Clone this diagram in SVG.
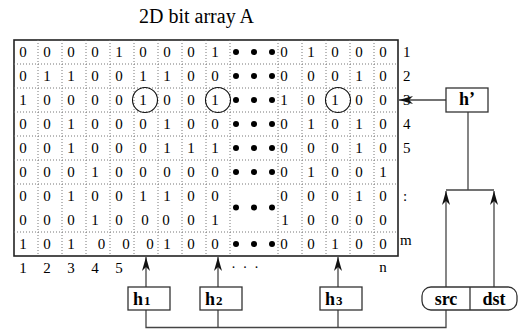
<svg xmlns="http://www.w3.org/2000/svg" width="518" height="329" viewBox="0 0 518 329">
<style>
text{font-family:"Liberation Serif","Times New Roman",serif;fill:#000}
.d{font-size:15px;text-anchor:middle}
.l{font-size:15px}
.b{font-weight:bold;font-size:18px}
.s{font-weight:bold;font-size:13px}
.dot{stroke:#777;stroke-width:1;stroke-dasharray:1 2;fill:none}
.box{fill:#fff;stroke:#333;stroke-width:1.3}
.cn{stroke:#444;stroke-width:1.3;fill:none}
.circ{fill:none;stroke:#111;stroke-width:1.1}
</style>
<defs>
<marker id="ah" viewBox="0 0 14 8" markerWidth="14" markerHeight="8" markerUnits="userSpaceOnUse" refX="14" refY="4" orient="auto">
<path d="M0,0 L14,4 L0,8 L4,4 z" fill="#111"/>
</marker>
</defs>
<text x="139" y="23" style="font-size:20px">2D bit array A</text>
<g id="array">
<rect x="14" y="40" width="384" height="216" fill="#fff" stroke="#222" stroke-width="1.6"/>
<path class="dot" d="M38,40V256M62,40V256M86,40V256M110,40V256M134,40V256M158,40V256M182,40V256M206,40V256M230,40V256M278,40V256M302,40V256M326,40V256M350,40V256M374,40V256M14,64H398M14,88H398M14,112H398M14,136H398M14,160H398M14,184H398M14,232H398"/>
<g id="r1"><text class="d" x="23" y="56.5">0</text><text class="d" x="47" y="56.5">0</text><text class="d" x="71" y="56.5">0</text><text class="d" x="95" y="56.5">0</text><text class="d" x="119" y="56.5">1</text><text class="d" x="143" y="56.5">0</text><text class="d" x="167" y="56.5">0</text><text class="d" x="191" y="56.5">0</text><text class="d" x="215" y="56.5">1</text><text class="d" x="284" y="56.5">0</text><text class="d" x="311" y="56.5">1</text><text class="d" x="335" y="56.5">0</text><text class="d" x="359" y="56.5">0</text><text class="d" x="383" y="56.5">0</text></g>
<g id="r2"><text class="d" x="23" y="80.5">0</text><text class="d" x="47" y="80.5">1</text><text class="d" x="71" y="80.5">1</text><text class="d" x="95" y="80.5">0</text><text class="d" x="119" y="80.5">0</text><text class="d" x="143" y="80.5">1</text><text class="d" x="167" y="80.5">1</text><text class="d" x="191" y="80.5">0</text><text class="d" x="215" y="80.5">0</text><text class="d" x="284" y="80.5">0</text><text class="d" x="311" y="80.5">0</text><text class="d" x="335" y="80.5">0</text><text class="d" x="359" y="80.5">1</text><text class="d" x="383" y="80.5">0</text></g>
<g id="r3"><text class="d" x="23" y="104.5">1</text><text class="d" x="47" y="104.5">0</text><text class="d" x="71" y="104.5">0</text><text class="d" x="95" y="104.5">0</text><text class="d" x="119" y="104.5">0</text><text class="d" x="143" y="104.5">1</text><text class="d" x="167" y="104.5">0</text><text class="d" x="191" y="104.5">0</text><text class="d" x="215" y="104.5">1</text><text class="d" x="284" y="104.5">1</text><text class="d" x="311" y="104.5">0</text><text class="d" x="335" y="104.5">1</text><text class="d" x="359" y="104.5">0</text><text class="d" x="383" y="104.5">0</text></g>
<g id="r4"><text class="d" x="23" y="128.5">0</text><text class="d" x="47" y="128.5">0</text><text class="d" x="71" y="128.5">1</text><text class="d" x="95" y="128.5">0</text><text class="d" x="119" y="128.5">0</text><text class="d" x="143" y="128.5">0</text><text class="d" x="167" y="128.5">1</text><text class="d" x="191" y="128.5">0</text><text class="d" x="215" y="128.5">0</text><text class="d" x="284" y="128.5">0</text><text class="d" x="311" y="128.5">1</text><text class="d" x="335" y="128.5">0</text><text class="d" x="359" y="128.5">1</text><text class="d" x="383" y="128.5">0</text></g>
<g id="r5"><text class="d" x="23" y="152.5">0</text><text class="d" x="47" y="152.5">0</text><text class="d" x="71" y="152.5">1</text><text class="d" x="95" y="152.5">0</text><text class="d" x="119" y="152.5">0</text><text class="d" x="143" y="152.5">0</text><text class="d" x="167" y="152.5">1</text><text class="d" x="191" y="152.5">1</text><text class="d" x="215" y="152.5">1</text><text class="d" x="284" y="152.5">0</text><text class="d" x="311" y="152.5">0</text><text class="d" x="335" y="152.5">0</text><text class="d" x="359" y="152.5">1</text><text class="d" x="383" y="152.5">0</text></g>
<g id="r6"><text class="d" x="23" y="176.5">0</text><text class="d" x="47" y="176.5">0</text><text class="d" x="71" y="176.5">0</text><text class="d" x="95" y="176.5">1</text><text class="d" x="119" y="176.5">0</text><text class="d" x="143" y="176.5">0</text><text class="d" x="167" y="176.5">0</text><text class="d" x="191" y="176.5">0</text><text class="d" x="215" y="176.5">0</text><text class="d" x="284" y="176.5">0</text><text class="d" x="311" y="176.5">1</text><text class="d" x="335" y="176.5">0</text><text class="d" x="359" y="176.5">0</text><text class="d" x="383" y="176.5">1</text></g>
<g id="r7"><text class="d" x="23" y="200.5">0</text><text class="d" x="47" y="200.5">0</text><text class="d" x="71" y="200.5">1</text><text class="d" x="95" y="200.5">0</text><text class="d" x="119" y="200.5">0</text><text class="d" x="143" y="200.5">1</text><text class="d" x="167" y="200.5">1</text><text class="d" x="191" y="200.5">0</text><text class="d" x="215" y="200.5">0</text><text class="d" x="284" y="200.5">0</text><text class="d" x="311" y="200.5">0</text><text class="d" x="335" y="200.5">0</text><text class="d" x="359" y="200.5">1</text><text class="d" x="383" y="200.5">0</text></g>
<g id="r8"><text class="d" x="23" y="224.5">0</text><text class="d" x="47" y="224.5">0</text><text class="d" x="71" y="224.5">0</text><text class="d" x="95" y="224.5">1</text><text class="d" x="119" y="224.5">0</text><text class="d" x="145" y="224.5">0</text><text class="d" x="166" y="224.5">0</text><text class="d" x="191" y="224.5">0</text><text class="d" x="215" y="224.5">1</text><text class="d" x="285" y="224.5">1</text><text class="d" x="311" y="224.5">0</text><text class="d" x="335" y="224.5">0</text><text class="d" x="359" y="224.5">0</text><text class="d" x="383" y="224.5">0</text></g>
<g id="rm"><text class="d" x="23" y="248.5">1</text><text class="d" x="47" y="248.5">0</text><text class="d" x="71" y="248.5">1</text><text class="d" x="101.5" y="248.5">0</text><text class="d" x="126" y="248.5">0</text><text class="d" x="150" y="248.5">0</text><text class="d" x="167" y="248.5">1</text><text class="d" x="191" y="248.5">0</text><text class="d" x="215" y="248.5">0</text><text class="d" x="284" y="248.5">0</text><text class="d" x="311" y="248.5">0</text><text class="d" x="335" y="248.5">1</text><text class="d" x="359" y="248.5">0</text><text class="d" x="383" y="248.5">0</text></g>
<g id="bullets" fill="#000">
<circle cx="236" cy="52" r="3"/><circle cx="254" cy="52" r="3"/><circle cx="272" cy="52" r="3"/>
<circle cx="236" cy="76" r="3"/><circle cx="254" cy="76" r="3"/><circle cx="272" cy="76" r="3"/>
<circle cx="236" cy="100" r="3"/><circle cx="254" cy="100" r="3"/><circle cx="272" cy="100" r="3"/>
<circle cx="236" cy="124" r="3"/><circle cx="254" cy="124" r="3"/><circle cx="272" cy="124" r="3"/>
<circle cx="236" cy="148" r="3"/><circle cx="254" cy="148" r="3"/><circle cx="272" cy="148" r="3"/>
<circle cx="236" cy="172" r="3"/><circle cx="254" cy="172" r="3"/><circle cx="272" cy="172" r="3"/>
<circle cx="236" cy="207.5" r="3"/><circle cx="254" cy="207.5" r="3"/><circle cx="272" cy="207.5" r="3"/>
<circle cx="236" cy="244" r="3"/><circle cx="254" cy="244" r="3"/><circle cx="272" cy="244" r="3"/>
</g>
<circle class="circ" cx="145" cy="100" r="12.5"/>
<circle class="circ" cx="218" cy="100" r="12.5"/>
<circle class="circ" cx="338" cy="100" r="12.5"/>
<g id="rowlabels">
<text class="l" x="403" y="57">1</text><text class="l" x="403" y="81">2</text><text class="l" x="403" y="105">3</text><text class="l" x="403" y="129">4</text><text class="l" x="403" y="153">5</text><text class="l" x="403" y="201">:</text><text class="l" x="400" y="245">m</text>
</g>
<g id="collabels">
<text class="d" x="23" y="273">1</text><text class="d" x="47" y="273">2</text><text class="d" x="71" y="273">3</text><text class="d" x="95" y="273">4</text><text class="d" x="119" y="273">5</text>
<text class="d" x="249" y="268" style="font-size:14px;letter-spacing:8px">...</text>
<text class="d" x="383" y="272">n</text>
</g>
</g>
<g id="connectors">
<path class="cn" d="M446,100H399" marker-end="url(#ah)"/>
<path class="cn" d="M468,112V190M446,190H494"/>
<path class="cn" d="M446,287V191" marker-end="url(#ah)"/>
<path class="cn" d="M494,287V191" marker-end="url(#ah)"/>
<path class="cn" d="M146,287V257" marker-end="url(#ah)"/>
<path class="cn" d="M218,287V257" marker-end="url(#ah)"/>
<path class="cn" d="M338,287V257" marker-end="url(#ah)"/>
<path class="cn" d="M146,310V327.5H446V310M218,310V327.5M338,310V327.5"/>
</g>
<g id="hprime">
<rect class="box" x="446" y="88" width="42" height="24"/>
<text class="b" x="467" y="105" text-anchor="middle">h’</text>
</g>
<g id="h1">
<rect class="box" x="128" y="287" width="42" height="23"/>
<text x="133" y="305"><tspan class="b">h</tspan><tspan class="s" dx="1">1</tspan></text>
</g>
<g id="h2">
<rect class="box" x="200" y="287" width="42" height="23"/>
<text x="205" y="305"><tspan class="b">h</tspan><tspan class="s" dx="1">2</tspan></text>
</g>
<g id="h3">
<rect class="box" x="320" y="287" width="42" height="23"/>
<text x="325" y="305"><tspan class="b">h</tspan><tspan class="s" dx="1">3</tspan></text>
</g>
<g id="srcdst">
<rect class="box" x="422" y="287" width="95" height="23" rx="9"/>
<path class="cn" d="M470,287V310" style="stroke:#333"/>
<text class="b" x="446" y="305" text-anchor="middle">src</text>
<text class="b" x="494" y="305" text-anchor="middle">dst</text>
</g>
</svg>
